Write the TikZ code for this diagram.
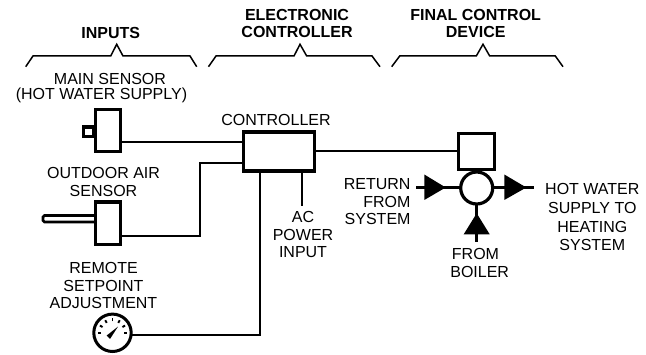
\documentclass[tikz,border=0pt]{standalone}
\usepackage{fontspec}
\usetikzlibrary{calc}
\setmainfont{Liberation Sans}
\tikzset{
  lbl/.style={inner sep=0pt,outer sep=0pt,align=center,font=\fontsize{16}{17.6}\selectfont},
  hdr/.style={inner sep=0pt,outer sep=0pt,align=center,font=\fontsize{16}{17.6}\selectfont\bfseries},
  brace/.style={line width=1.5pt,line join=miter},
  box/.style={draw,rectangle,line width=3.2pt,inner sep=0pt,outer sep=0pt,fill=white},
  wire/.style={line width=1.9pt},
  pipe/.style={line width=2.8pt},
  tip/.style={fill=black,draw=none}
}
\begin{document}
\begin{tikzpicture}[x=1pt,y=-1pt]
\useasboundingbox (0,0) rectangle (646,355);
% headers
\node[hdr] (hinputs) at (110.8,33) {INPUTS};
\node[hdr] (helec) at (297,23.3) {ELECTRONIC\\CONTROLLER};
\node[hdr] (hfinal) at (475.7,23.3) {FINAL CONTROL\\DEVICE};
% braces
\draw[brace] (25.7,66.7) -- (33,56) -- (110.7,56) -- (116.7,44.3) -- (123,56) -- (190,56) -- (196.7,66.7);
\draw[brace] (208.5,66.7) -- (216,56) -- (294,56) -- (300,44.3) -- (306.7,56) -- (372,56) -- (380,66.7);
\draw[brace] (391.7,66.7) -- (399.7,56) -- (476.3,56) -- (483,44.3) -- (489.7,56) -- (555.3,56) -- (563,66.7);
% labels
\node[lbl] (lmain) at (110,78.7) {MAIN SENSOR};
\node[lbl] (lmainb) at (101.5,95.7) {(HOT WATER SUPPLY)};
\node[lbl] (lctrl) at (276,119.5) {CONTROLLER};
\node[lbl] (lout) at (103.5,181.7) {OUTDOOR AIR\\SENSOR};
\node[lbl] (lrem) at (103.5,285.5) {REMOTE\\SETPOINT\\ADJUSTMENT};
\node[lbl] (lac) at (303,234.5) {AC\\POWER\\INPUT};
\node[lbl,align=right,anchor=east] (lret) at (410.5,201.7) {RETURN\\FROM\\SYSTEM};
\node[lbl,font=\fontsize{16}{18.7}\selectfont] (lhot) at (592.3,217.3) {HOT WATER\\SUPPLY TO\\HEATING\\SYSTEM};
\node[lbl] (lfrom) at (475.5,254.3) {FROM};
\node[lbl] (lboil) at (479.7,271.7) {BOILER};
% main sensor
\node[box,minimum width=10.5pt,minimum height=9.5pt] (mstub) at (88.5,131.8) {};
\node[box,minimum width=25pt,minimum height=42pt] (msens) at (108,130.5) {};
% outdoor sensor
\draw[line width=2.8pt,rounded corners=1.5pt,fill=white] (95,215.5) -- (43,215.5) -- (43,222) -- (95,222);
\node[box,minimum width=25pt,minimum height=42.7pt] (osens) at (108,223.3) {};
% controller
\node[box,minimum width=71pt,minimum height=39pt] (ctrl) at (279,151.5) {};
% gauge
\node[circle,draw,line width=3pt,inner sep=0pt,outer sep=0pt,minimum size=37.4pt,fill=white] (gauge) at (112.5,332.8) {};
\foreach \a in {0,30,60,90,120,150,180}
  \draw[line width=1.9pt] ($(gauge.center)+(\a:11.5pt)$) -- ($(gauge.center)+(\a:14.5pt)$);
\fill (106.6,335.6) -- (118,326.6) -- (110,339) -- cycle;
% final control device
\node[box,minimum width=36pt,minimum height=36pt] (act) at (476.7,151.7) {};
\node[circle,draw,line width=3.2pt,inner sep=0pt,outer sep=0pt,minimum size=32pt,fill=white] (valve) at (476.7,188) {};
% free ends
\coordinate (wm) at (243.5,141.7);
\coordinate (wo) at (243.5,162.7);
\coordinate (wob) at (200,235.7);
\coordinate (wr) at (260,335);
\coordinate (wac) at (302,206);
\coordinate (wact) at (458.7,151);
\coordinate (pl) at (416,187.5);
\coordinate (pr) at (533.7,187.5);
\coordinate (pb) at (476.7,241.7);
% wires
\draw[wire] (wm -| msens.east) -- (wm);
\draw[wire] (wo) -- (wo -| wob) -- (wob) -- (wob -| osens.east);
\draw[wire] (gauge.east |- wr) -- (wr) -- (wr |- ctrl.south);
\draw[wire] (wac) -- (wac |- ctrl.south);
\draw[wire] (wact -| ctrl.east) -- (wact);
% pipes
\draw[pipe] (pl) -- (pl -| valve.west);
\draw[pipe] (valve.east |- pr) -- (pr);
\draw[pipe] (valve.south) -- (pb);
% arrowheads
\fill[tip] (424.3,174.5) -- (445.7,187.5) -- (424.3,200) -- cycle;
\fill[tip] (504.3,174.5) -- (526.3,187.5) -- (504.3,200) -- cycle;
\fill[tip] (463.7,234.3) -- (476.7,213.3) -- (489.7,234.3) -- cycle;
\end{tikzpicture}
\end{document}
